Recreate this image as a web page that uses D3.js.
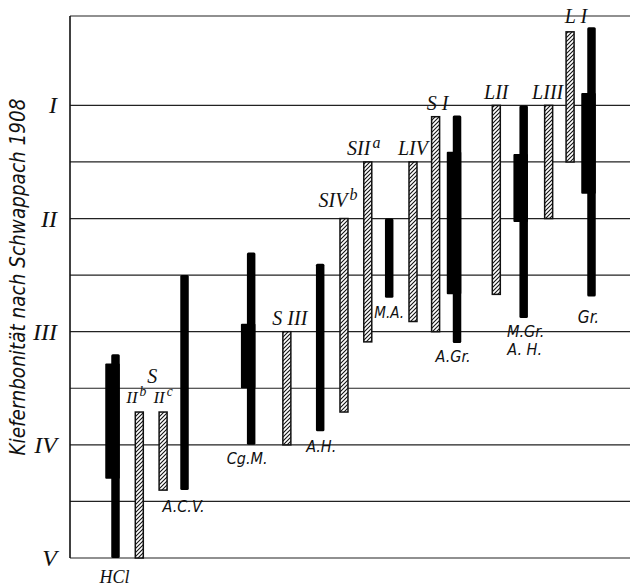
<!DOCTYPE html>
<html><head><meta charset="utf-8">
<script src="https://cdn.jsdelivr.net/npm/d3@7"></script>
<style>
body{margin:0;background:#fff}
.serif{font-family:"Liberation Serif","DejaVu Serif",serif;font-style:italic}
.sans{font-family:"DejaVu Sans Condensed","Liberation Sans Narrow","DejaVu Sans",sans-serif;font-style:italic;font-stretch:condensed}
</style>
</head><body><svg id="c" width="630" height="586"></svg>
<script>
// ---- data ----
const barNames   = ["HCl","S IIb","S IIc","A.C.V.","Cg.M.","S III","A.H.","S IVb","S IIa","M.A.","L IV","S I","A.Gr.","L II","M.Gr. A.H.","L III","L I","Gr."];
const barKinds   = ["solid","hatched","hatched","solid","solid","hatched","solid","hatched","hatched","solid","hatched","hatched","solid","hatched","solid","hatched","hatched","solid"];
const barSlots   = [0,1,2,2.9,5.7,7.2,8.6,9.6,10.6,11.5,12.5,13.45,14.35,16,17.15,18.2,19.1,20];
const rangeTop   = [3.2,3.71,3.71,2.5,2.3,3.0,2.4,2.0,1.5,2.0,1.5,1.1,1.09,1.0,1.0,1.0,0.35,0.31];
const rangeBot   = [5.0,5.0,4.4,4.4,4.0,4.0,3.88,3.71,3.09,2.7,2.91,3.0,3.1,2.67,2.88,2.0,1.5,2.69];
const coreTop    = [3.28,null,null,null,2.93,null,null,null,null,null,null,null,1.41,null,1.43,null,null,0.89];
const coreBot    = [4.3,null,null,null,3.5,null,null,null,null,null,null,null,2.67,null,2.03,null,null,1.78];
const classValues = [1,2,3,4,5];
const classLabels = ["I","II","III","IV","V"];
const halfValues  = [1.5,2.5,3.5,4.5];
const frameTop = 0.21;
const yTitle = "Kiefernbonität nach Schwappach 1908";
// labels
const labelBar  = [0,1,2,3,4,5,6,7,8,9,10,11,12,13,14,14,15,16,17];
const labelText = ["HCl","II","II","A.C.V.","Cg.M.","S III","A.H.","SIV","SII","M.A.","LIV","S I","A.Gr.","LII","M.Gr.","A. H.","LIII","L I","Gr."];
const labelSup  = ["","b","c","","","","","b","a","","","","","","","","","",""];
const groupLabel = {text:"S", bars:[1,2]};

// ---- scales ----
const svg = d3.select("#c");
const y = d3.scaleLinear().domain([frameTop,5]).range([16,558]);
const x = d3.scaleLinear().domain([0,20]).range([115.5,591.5]);
const left = 70, right = 630;

const defs = svg.append("defs");
const pat = defs.append("pattern").attr("id","hatch").attr("patternUnits","userSpaceOnUse")
  .attr("width",4).attr("height",4);
pat.append("rect").attr("width",4).attr("height",4).attr("fill","#fff");
pat.append("path").attr("d","M-1,1 L1,-1 M0,4 L4,0 M3,5 L5,3").attr("stroke","#111").attr("stroke-width",1.1);

// grid
const g = svg.append("g");
g.selectAll("line.cls").data(classValues.concat(halfValues, [frameTop])).join("line")
  .attr("x1",left).attr("x2",right).attr("y1",d=>y(d)).attr("y2",d=>y(d))
  .attr("stroke","#222").attr("stroke-width",1.2);
g.append("line").attr("x1",left).attr("x2",left).attr("y1",y(frameTop)).attr("y2",y(5))
  .attr("stroke","#111").attr("stroke-width",1.6);

// axis numerals
g.selectAll("text.num").data(classValues).join("text").attr("class","serif")
  .attr("x",57).attr("y",d=>y(d)+8).attr("text-anchor","end")
  .attr("font-size",24).attr("fill","#111").text((d,i)=>classLabels[i]);

// axis title
svg.append("text").attr("class","sans").attr("transform",`translate(25,277) rotate(-90)`)
  .attr("text-anchor","middle").attr("font-size",20.5).attr("fill","#111").text(yTitle);

// bars
const thinW = 8.5, coreW = 14.5, hatchW = 8;
const bars = barNames.map((n,i)=>({n,i,kind:barKinds[i],s:barSlots[i],t:rangeTop[i],b:rangeBot[i],ct:coreTop[i],cb:coreBot[i]}));
const bg = svg.append("g");
bars.forEach(d=>{
  const cx = x(d.s);
  if(d.kind==="hatched"){
    bg.append("rect").attr("x",cx-hatchW/2).attr("y",y(d.t)).attr("width",hatchW).attr("height",y(d.b)-y(d.t))
      .attr("fill","url(#hatch)").attr("stroke","#111").attr("stroke-width",1.5);
  } else {
    bg.append("rect").attr("x",cx-thinW/2).attr("y",y(d.t)).attr("width",thinW).attr("height",y(d.b)-y(d.t))
      .attr("rx",1.5).attr("fill","#000");
    if(d.ct!=null){
      bg.append("rect").attr("x",cx+thinW/2-coreW).attr("y",y(d.ct)).attr("width",coreW).attr("height",y(d.cb)-y(d.ct))
        .attr("rx",1).attr("fill","#000");
    }
  }
});

// labels
const place = { // side, dx, dy relative to bar end, font, size
  0:["below",-1,25,"serif",18],
  1:["above",-3,-9,"serif",17],
  2:["above",0,-9,"serif",17],
  3:["below",-1,22,"sans",16],
  4:["below",-4,19,"sans",16],
  5:["above",3,-7,"serif",20],
  6:["below",1,21,"sans",16],
  7:["above",-6,-12,"serif",20],
  8:["above",-4,-7,"serif",20],
  9:["below",0,20,"sans",15],
  10:["above",0,-7,"serif",20],
  11:["above",2,-7,"serif",20],
  12:["below",-4,19,"sans",16],
  13:["above",0,-6,"serif",20],
  14:["below",2,19,"sans",16],
  15:["below",1,37,"sans",16],
  16:["above",-1,-6,"serif",20],
  17:["above",6,-9,"serif",20],
  18:["below",-3,26,"sans",17]
};
const lg = svg.append("g");
labelText.forEach((t,k)=>{
  const d = bars[labelBar[k]];
  const [side,dx,dy,font,fs] = place[k];
  const yy = (side==="above"? y(d.t) : y(d.b)) + dy;
  const txt = lg.append("text").attr("class",font).attr("x",x(d.s)+dx).attr("y",yy)
    .attr("text-anchor","middle").attr("font-size",fs).attr("fill","#111");
  txt.append("tspan").text(t);
  if(labelSup[k]) txt.append("tspan").attr("dy",-7).attr("dx",2).attr("font-size",fs*0.8).text(labelSup[k]);
});
{
  const gb = groupLabel.bars.map(i=>bars[i]);
  lg.append("text").attr("class","serif").attr("x",d3.mean(gb,d=>x(d.s))+1).attr("y",y(d3.min(gb,d=>d.t))-29)
    .attr("text-anchor","middle").attr("font-size",20).attr("fill","#111").text(groupLabel.text);
}
</script>
</body></html>
